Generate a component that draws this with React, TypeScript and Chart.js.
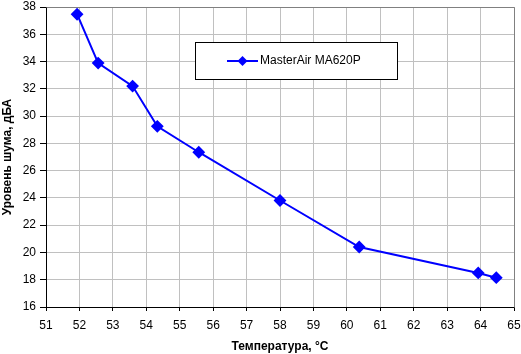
import React, { useEffect, useRef } from "react";
import { Chart, registerables } from "chart.js";

Chart.register(...registerables);

const temps = [51.93, 52.56, 53.59, 54.33, 55.57, 58.0, 60.37, 63.93, 64.47];
const noise = [37.47, 33.89, 32.2, 29.25, 27.35, 23.81, 20.4, 18.5, 18.15];
const seriesName = "MasterAir MA620P";
const xTitle = "Температура, °C";
const yTitle = "Уровень шума, дБА";

const FONT = "'Liberation Sans', Arial, sans-serif";

const frameAndLegend = {
  id: "frameAndLegend",
  afterDraw(chart: any) {
    const { ctx, chartArea } = chart;
    ctx.save();
    ctx.strokeStyle = "#808080";
    ctx.lineWidth = 1;
    ctx.beginPath();
    ctx.moveTo(Math.round(chartArea.left) + 0.5, Math.round(chartArea.top) + 0.5);
    ctx.lineTo(Math.round(chartArea.right) + 0.5, Math.round(chartArea.top) + 0.5);
    ctx.lineTo(Math.round(chartArea.right) + 0.5, Math.round(chartArea.bottom) + 0.5);
    ctx.stroke();
    const bx = 195.5, by = 42.5, bw = 202, bh = 37;
    ctx.fillStyle = "#ffffff";
    ctx.fillRect(bx, by, bw, bh);
    ctx.strokeStyle = "#000000";
    ctx.strokeRect(bx, by, bw, bh);
    const cy = by + bh / 2;
    ctx.strokeStyle = "#0000ff";
    ctx.lineWidth = 2;
    ctx.beginPath();
    ctx.moveTo(227, cy);
    ctx.lineTo(258, cy);
    ctx.stroke();
    ctx.fillStyle = "#0000ff";
    const mx = 242.5, r = 5;
    ctx.beginPath();
    ctx.moveTo(mx, cy - r);
    ctx.lineTo(mx + r, cy);
    ctx.lineTo(mx, cy + r);
    ctx.lineTo(mx - r, cy);
    ctx.closePath();
    ctx.fill();
    ctx.fillStyle = "#000000";
    ctx.font = `12px ${FONT}`;
    ctx.textBaseline = "middle";
    ctx.textAlign = "left";
    ctx.fillText(seriesName, 260, cy);
    ctx.restore();
  },
};

export default function App() {
  const ref = useRef<HTMLCanvasElement>(null);
  useEffect(() => {
    document.body.style.margin = "0";
    const chart = new Chart(ref.current!, {
      type: "line",
      data: {
        datasets: [
          {
            label: seriesName,
            data: temps.map((t, i) => ({ x: t, y: noise[i] })),
            borderColor: "#0000ff",
            backgroundColor: "#0000ff",
            borderWidth: 2,
            pointStyle: "rectRot",
            pointRadius: 5,
            pointHoverRadius: 5,
            tension: 0,
          },
        ],
      },
      plugins: [frameAndLegend],
      options: {
        animation: false,
        responsive: false,
        layout: { padding: { top: 5, right: 5, left: 0, bottom: 0 } },
        plugins: { legend: { display: false }, tooltip: { enabled: false } },
        scales: {
          x: {
            type: "linear",
            min: 51,
            max: 65,
            afterFit: (s: any) => { s.height = 47; s.paddingLeft = 0; s.paddingRight = 0; },
            ticks: { stepSize: 1, color: "#000", font: { family: FONT, size: 12 }, padding: 7, maxRotation: 0 },
            grid: { color: "#c0c0c0", tickColor: "#000", tickLength: 4, lineWidth: 1 },
            border: { color: "#000", width: 1 },
            title: { display: true, text: xTitle, color: "#000", font: { family: FONT, size: 12, weight: "bold" }, padding: { top: 0, bottom: 0 } },
          },
          y: {
            type: "linear",
            min: 16,
            max: 38,
            afterFit: (s: any) => { s.width = 46; s.paddingTop = 0; s.paddingBottom = 0; },
            ticks: { stepSize: 2, color: "#000", font: { family: FONT, size: 12 }, padding: 4 },
            grid: { color: "#c0c0c0", tickColor: "#000", tickLength: 6, lineWidth: 1 },
            border: { color: "#000", width: 1 },
            title: { display: true, text: yTitle, color: "#000", font: { family: FONT, size: 12, weight: "bold" }, padding: { top: 0, bottom: 0 } },
          },
        },
      },
    });
    return () => chart.destroy();
  }, []);
  return (
    <div style={{ width: 521, height: 354, background: "#fff" }}>
      <canvas ref={ref} width={521} height={354} style={{ width: 521, height: 354 }} />
    </div>
  );
}
